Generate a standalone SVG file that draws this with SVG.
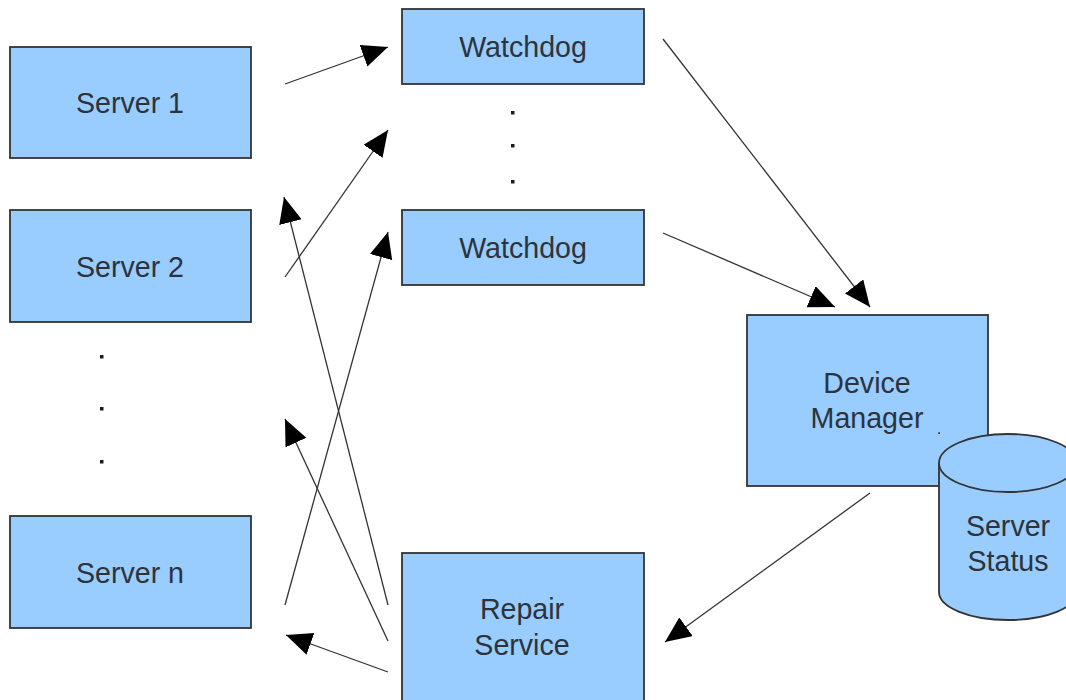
<svg xmlns="http://www.w3.org/2000/svg" width="1066" height="700" viewBox="0 0 1066 700">
  <style>
    .box { fill: #99ccff; stroke: #333333; stroke-width: 1.8; }
    .label { font-family: "Liberation Sans", Arial, sans-serif; font-size: 28.6px; fill: #2d333b; text-anchor: middle; }
    .link { stroke: #333333; stroke-width: 1.3; fill: none; marker-end: url(#head); }
    .dot { fill: #1a1a2a; }
  </style>
  <defs>
    <marker id="head" markerUnits="userSpaceOnUse" markerWidth="27" markerHeight="24" refX="26" refY="11.5" orient="auto">
      <path d="M0,0 L26,11.5 L0,23 z" fill="#000000"/>
    </marker>
  </defs>

  <rect width="1066" height="700" fill="#ffffff"/>

  <!-- server column -->
  <g id="server1">
    <rect class="box" x="10" y="47" width="241" height="111"/>
    <text class="label" x="130" y="113">Server 1</text>
  </g>
  <g id="server2">
    <rect class="box" x="10" y="210" width="241" height="112"/>
    <text class="label" x="130" y="277">Server 2</text>
  </g>
  <g id="server-ellipsis">
    <rect class="dot" x="100" y="355" width="3.5" height="3.5"/>
    <rect class="dot" x="100" y="407" width="3.5" height="3.5"/>
    <rect class="dot" x="100" y="460" width="3.5" height="3.5"/>
  </g>
  <g id="servern">
    <rect class="box" x="10" y="516" width="241" height="112"/>
    <text class="label" x="130" y="583">Server n</text>
  </g>

  <!-- watchdog column -->
  <g id="watchdog1">
    <rect class="box" x="402" y="9" width="242" height="75"/>
    <text class="label" x="523" y="57">Watchdog</text>
  </g>
  <g id="watchdog-ellipsis">
    <rect class="dot" x="511" y="111" width="3.5" height="3.5"/>
    <rect class="dot" x="511" y="144" width="3.5" height="3.5"/>
    <rect class="dot" x="511" y="180" width="3.5" height="3.5"/>
  </g>
  <g id="watchdog2">
    <rect class="box" x="402" y="210" width="242" height="75"/>
    <text class="label" x="523" y="258">Watchdog</text>
  </g>

  <!-- manager and its store -->
  <g id="device-manager">
    <rect class="box" x="747" y="315" width="241" height="171"/>
    <text class="label" x="867" y="393">Device</text>
    <text class="label" x="867" y="428">Manager</text>
    <rect class="dot" x="938.3" y="432.3" width="1.6" height="1.6"/>
  </g>
  <g id="server-status">
    <path class="box" d="M939,463 L939,592 A69,28 0 0 0 1077,592 L1077,463"/>
    <ellipse class="box" cx="1008" cy="463" rx="69" ry="29"/>
    <text class="label" x="1008" y="536">Server</text>
    <text class="label" x="1008" y="571">Status</text>
  </g>

  <!-- repair -->
  <g id="repair-service">
    <rect class="box" x="402" y="553" width="242" height="160"/>
    <text class="label" x="522" y="619">Repair</text>
    <text class="label" x="522" y="655">Service</text>
  </g>

  <!-- connectors -->
  <g id="connectors">
    <line class="link" x1="285" y1="84" x2="388" y2="47"/>
    <line class="link" x1="285" y1="277" x2="388" y2="130"/>
    <line class="link" x1="285" y1="605" x2="388" y2="232"/>
    <line class="link" x1="388" y1="605" x2="284" y2="197"/>
    <line class="link" x1="388" y1="641" x2="285" y2="419"/>
    <line class="link" x1="388" y1="672" x2="286" y2="635"/>
    <line class="link" x1="663" y1="39" x2="870" y2="307"/>
    <line class="link" x1="663" y1="233" x2="835" y2="307"/>
    <line class="link" x1="870" y1="493" x2="665" y2="642"/>
  </g>
</svg>
